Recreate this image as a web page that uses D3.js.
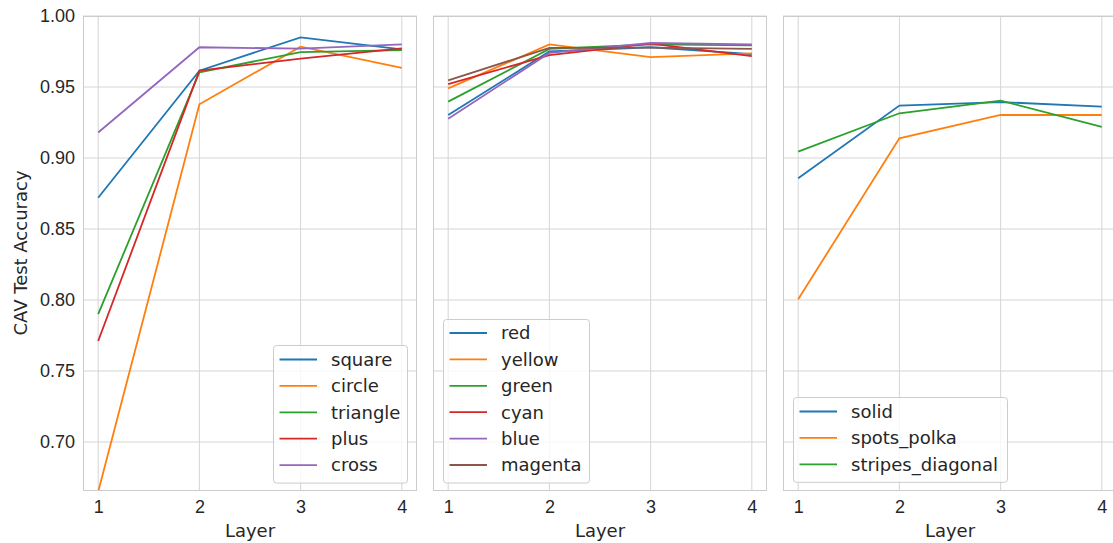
<!DOCTYPE html>
<html>
<head>
<meta charset="utf-8">
<script src="https://cdn.jsdelivr.net/npm/d3@7"></script>
<style>
  body { margin: 0; background: #fff; }
  svg { font-family: "DejaVu Sans", sans-serif; }
</style>
</head>
<body>
<svg id="chart" width="1113" height="543"></svg>
<script>
var layers = [1, 2, 3, 4]
var yTicks = [0.70, 0.75, 0.80, 0.85, 0.90, 0.95, 1.00]

// panel 1: shapes
var shapeNames = ['square', 'circle', 'triangle', 'plus', 'cross']
var square = [0.872, 0.9615, 0.985, 0.9765]
var circle = [0.665, 0.9378, 0.9784, 0.9634]
var triangle = [0.790, 0.9603, 0.9746, 0.976]
var plus = [0.7711, 0.9615, 0.970, 0.9772]
var cross = [0.918, 0.978, 0.977, 0.980]

// panel 2: colours
var colorNames = ['red', 'yellow', 'green', 'cyan', 'blue', 'magenta']
var red = [0.9303, 0.975, 0.978, 0.9732]
var yellow = [0.949, 0.980, 0.971, 0.9737]
var green = [0.9397, 0.9768, 0.980, 0.9793]
var cyan = [0.952, 0.9725, 0.9805, 0.9718]
var blue = [0.9277, 0.974, 0.981, 0.980]
var magenta = [0.9547, 0.9775, 0.9777, 0.9768]

// panel 3: textures
var textureNames = ['solid', 'spots_polka', 'stripes_diagonal']
var solid = [0.8857, 0.9369, 0.9394, 0.9362]
var spotsPolka = [0.8005, 0.9139, 0.9303, 0.9303]
var stripesDiagonal = [0.9045, 0.9315, 0.9404, 0.922]

var palette = ['#1f77b4', '#ff7f0e', '#2ca02c', '#d62728', '#9467bd', '#8c564b']

var panels = [
  { left: 83, names: shapeNames, series: [square, circle, triangle, plus, cross],
    legend: { x: 273, y: 345, w: 134, firstY: 359.5 } },
  { left: 433, names: colorNames, series: [red, yellow, green, cyan, blue, magenta],
    legend: { x: 443, y: 319, w: 146, firstY: 333 } },
  { left: 783, names: textureNames, series: [solid, spotsPolka, stripesDiagonal],
    legend: { x: 793, y: 397, w: 214, firstY: 411.5 } }
]

var svg = d3.select('#chart')
var plotTop = 16, plotBottom = 491, pw = 334
var textColor = '#262626', gridColor = '#d5d5d5'
var fs = '18px'

var y = d3.scaleLinear().domain([0.6655, 1.0]).range([plotBottom, plotTop])

panels.forEach(function(p, pi) {
  var x = d3.scaleLinear().domain([0.85, 4.15]).range([p.left, p.left + pw])
  var g = svg.append('g')

  // grid
  g.selectAll('.hg').data(yTicks).enter().append('line')
    .attr('x1', p.left).attr('x2', p.left + pw)
    .attr('y1', function(d) { return y(d) }).attr('y2', function(d) { return y(d) })
    .attr('stroke', gridColor).attr('stroke-width', 1)
  g.selectAll('.vg').data(layers).enter().append('line')
    .attr('y1', plotTop).attr('y2', plotBottom)
    .attr('x1', function(d) { return x(d) }).attr('x2', function(d) { return x(d) })
    .attr('stroke', gridColor).attr('stroke-width', 1)

  // lines
  var clipId = 'clip' + pi
  svg.append('clipPath').attr('id', clipId).append('rect')
    .attr('x', p.left).attr('y', plotTop).attr('width', pw).attr('height', plotBottom - plotTop)
  var line = d3.line().x(function(d, i) { return x(layers[i]) }).y(function(d) { return y(d) })
  g.append('g').attr('clip-path', 'url(#' + clipId + ')')
    .selectAll('path').data(p.series).enter().append('path')
    .attr('d', line).attr('fill', 'none')
    .attr('stroke', function(d, i) { return palette[i] })
    .attr('stroke-width', 1.8)

  // frame
  g.append('rect').attr('x', p.left + 0.5).attr('y', plotTop + 0.5)
    .attr('width', pw - 1).attr('height', plotBottom - plotTop - 1)
    .attr('fill', 'none').attr('stroke', '#cccccc').attr('stroke-width', 1)

  // x axis
  var xAxis = d3.axisBottom(x).tickValues(layers).tickFormat(d3.format('d')).tickSize(0).tickPadding(9)
  var xa = g.append('g').attr('transform', 'translate(0,' + plotBottom + ')').call(xAxis)
  xa.select('.domain').remove()
  xa.selectAll('text').attr('fill', textColor).style('font-size', fs)
  g.append('text').attr('x', p.left + pw / 2).attr('y', 537)
    .attr('text-anchor', 'middle').attr('fill', textColor).style('font-size', fs).text('Layer')

  if (pi === 0) {
    var yAxis = d3.axisLeft(y).tickValues(yTicks).tickFormat(d3.format('.2f')).tickSize(0).tickPadding(8)
    var ya = g.append('g').attr('transform', 'translate(' + p.left + ',0)').call(yAxis)
    ya.select('.domain').remove()
    ya.selectAll('text').attr('fill', textColor).style('font-size', fs)
    g.append('text').attr('transform', 'translate(27,253) rotate(-90)')
      .attr('text-anchor', 'middle').attr('fill', textColor).style('font-size', fs)
      .text('CAV Test Accuracy')
  }

  // legend
  var L = p.legend, step = 26.4
  var lg = g.append('g')
  lg.append('rect').attr('x', L.x + 0.5).attr('y', L.y + 0.5)
    .attr('width', L.w).attr('height', L.firstY - L.y + step * (p.names.length - 1) + 17.5)
    .attr('rx', 3).attr('fill', 'white').attr('fill-opacity', 0.8)
    .attr('stroke', '#cccccc').attr('stroke-width', 1)
  var items = lg.selectAll('.item').data(p.names).enter().append('g')
    .attr('transform', function(d, i) { return 'translate(' + L.x + ',' + (L.firstY + i * step) + ')' })
  items.append('line').attr('x1', 6.5).attr('x2', 44).attr('y1', 0).attr('y2', 0)
    .attr('stroke', function(d, i) { return palette[i] }).attr('stroke-width', 1.8)
  items.append('text').attr('x', 58).attr('y', 0).attr('dy', '0.35em')
    .attr('fill', textColor).style('font-size', fs).text(function(d) { return d })
})
</script>
</body>
</html>
